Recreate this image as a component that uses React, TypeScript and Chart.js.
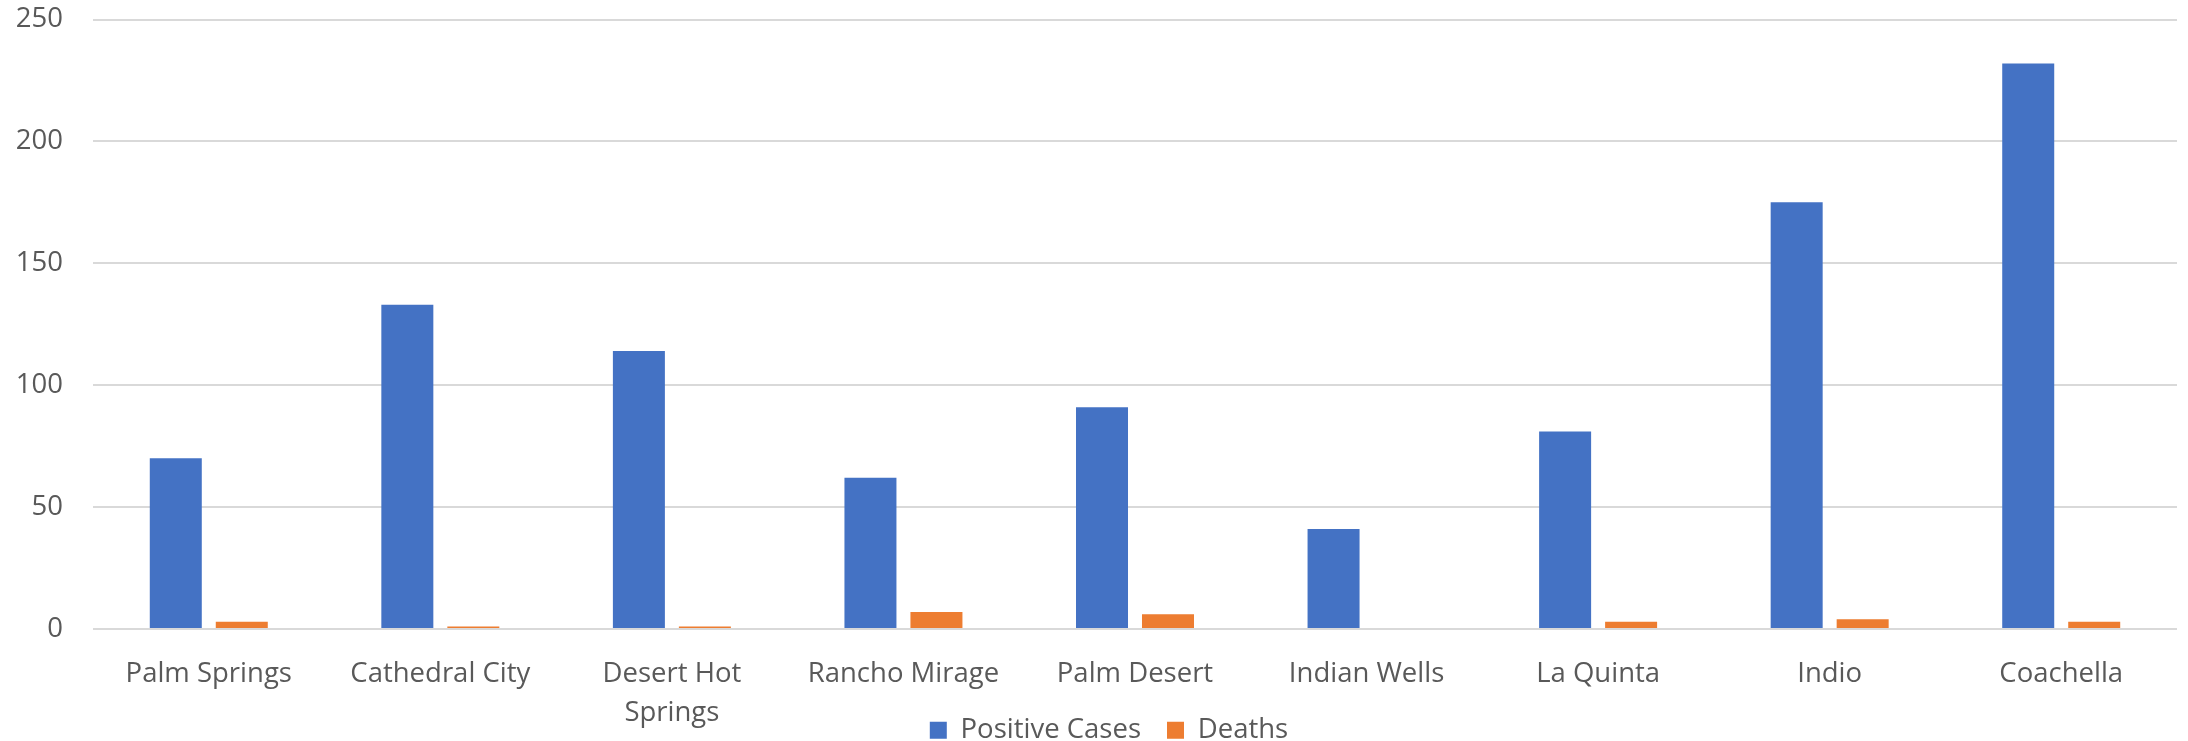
import React, { useEffect, useRef } from "react";
import { Chart, registerables } from "chart.js";

Chart.register(...registerables);

const categories: (string | string[])[] = [
  "Palm Springs",
  "Cathedral City",
  ["Desert Hot", "Springs"],
  "Rancho Mirage",
  "Palm Desert",
  "Indian Wells",
  "La Quinta",
  "Indio",
  "Coachella",
];
const positiveCases = [70, 133, 114, 62, 91, 41, 81, 175, 232];
const deaths = [3, 1, 1, 7, 6, 0, 3, 4, 3];
const seriesNames = ["Positive Cases", "Deaths"];
const seriesColors = ["#4472C4", "#ED7D31"];
const yMin = 0;
const yMax = 250;
const yStep = 50;

const FONT = "'Open Sans', 'Noto Sans', sans-serif";
const TEXT = "#595959";

// widen the label clip areas after layout so text is never cut
const unclipLabels = {
  id: "unclipLabels",
  afterLayout(chart: any) {
    const x = chart.scales.x;
    const y = chart.scales.y;
    if (x) x.bottom = chart.height;
    if (y) y.left = 0;
  },
};

export default function App() {
  const ref = useRef<HTMLCanvasElement | null>(null);

  useEffect(() => {
    document.body.style.margin = "0";
    const canvas = ref.current;
    if (!canvas) return;
    const chart = new Chart(canvas, {
      type: "bar",
      data: {
        labels: categories,
        datasets: [
          {
            label: seriesNames[0],
            data: positiveCases,
            backgroundColor: seriesColors[0],
            borderWidth: 0,
            categoryPercentage: 0.57,
            barPercentage: 0.788,
          },
          {
            label: seriesNames[1],
            data: deaths,
            backgroundColor: seriesColors[1],
            borderWidth: 0,
            categoryPercentage: 0.57,
            barPercentage: 0.788,
          },
        ],
      },
      plugins: [unclipLabels],
      options: {
        responsive: false,
        animation: false,
        devicePixelRatio: 1,
        layout: { padding: { top: 19.5, left: 41, right: 11, bottom: -13 } },
        plugins: {
          tooltip: { enabled: false },
          title: { display: false },
          legend: {
            position: "bottom",
            labels: {
              boxWidth: 17,
              boxHeight: 17,
              padding: 26,
              color: TEXT,
              font: { family: FONT, size: 27.5 },
            },
          },
        },
        scales: {
          x: {
            grid: { display: false, drawTicks: false },
            border: { display: false },
            ticks: {
              color: TEXT,
              padding: 26,
              maxRotation: 0,
              autoSkip: false,
              font: { family: FONT, size: 27.5, lineHeight: 1.42 },
            },
            afterFit: (s: any) => {
              s.height = 61.5;
            },
          },
          y: {
            min: yMin,
            max: yMax,
            grid: { color: "#D9D9D9", lineWidth: 2, drawTicks: false },
            border: { display: false },
            ticks: {
              stepSize: yStep,
              color: TEXT,
              padding: 30,
              font: { family: FONT, size: 27.5, lineHeight: 1.2 },
            },
            afterFit: (s: any) => {
              s.width = 52;
              s.paddingTop = 0;
              s.paddingBottom = 0;
            },
          },
        },
      },
    });
    return () => chart.destroy();
  }, []);

  return (
    <div style={{ width: 2188, height: 741, background: "#fff" }}>
      <canvas ref={ref} width={2188} height={741} style={{ display: "block" }} />
    </div>
  );
}
